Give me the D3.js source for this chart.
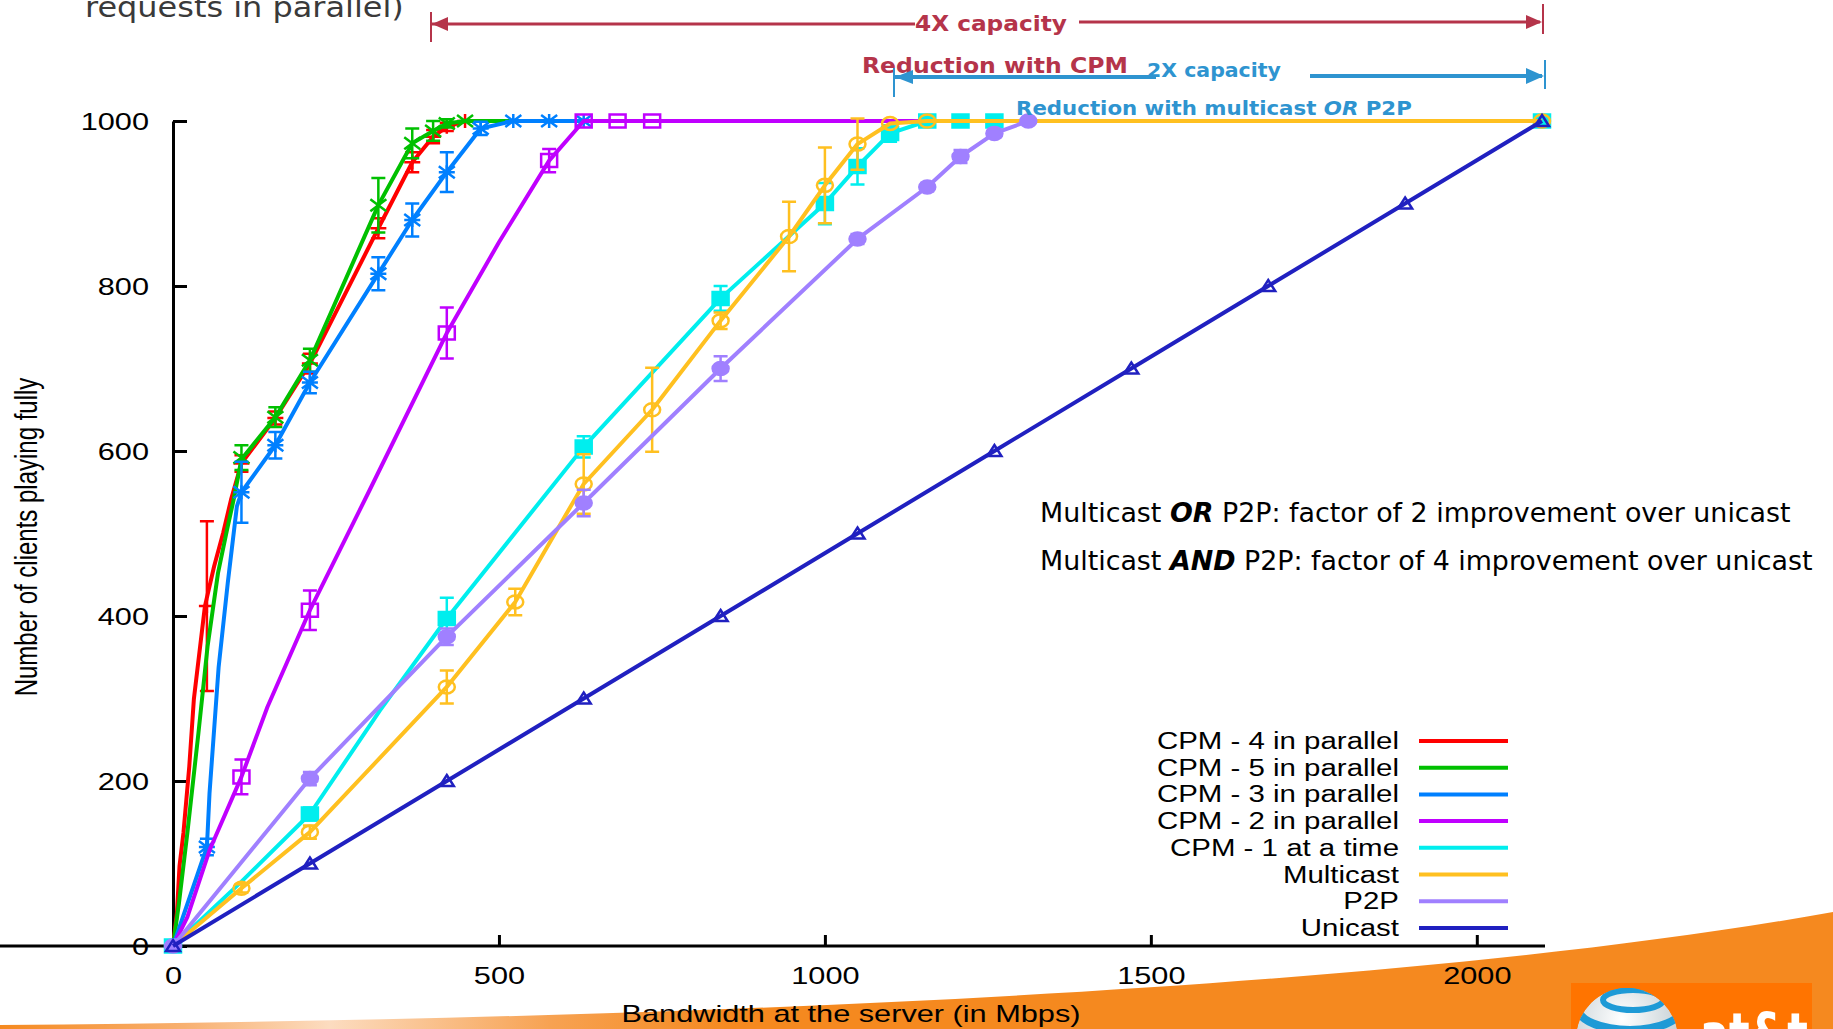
<!DOCTYPE html>
<html>
<head>
<meta charset="utf-8">
<script src="https://cdn.jsdelivr.net/npm/d3@7"></script>
<style>
  html, body { margin: 0; padding: 0; background: #fff; }
  svg { display: block; }
</style>
</head>
<body>
<div id="chart"></div>
<script>
const W = 1833, H = 1029;

// ticks
const xTicks = [0, 500, 1000, 1500, 2000];
const yTicks = [0, 200, 400, 600, 800, 1000];

// [bandwidth (Mbps), clients playing fully] - line points
const cpm4Line = [[0,0],[6,40],[10,97],[16,137],[25,218],[32,299],[49,412],[63,460],[77,501],[89,541],[105,585],[157,640],[210,706],[315,870],[367,950],[399,981],[420,993],[448,1000],[500,1000]];
const cpm5Line = [[0,0],[9,51],[22,137],[39,258],[53,363],[69,452],[83,505],[93,541],[105,590],[157,641],[210,710],[315,898],[367,973],[399,988],[420,997],[448,1000],[520,1000]];
const cpm3Line = [[0,0],[52,120],[56,185],[70,338],[84,440],[98,533],[105,550],[157,607],[210,683],[315,815],[367,880],[420,938],[472,991],[522,1000],[650,1000]];
const cpm2Line = [[0,0],[22,35],[56,116],[105,205],[145,290],[210,407],[300,550],[420,743],[500,853],[577,952],[630,1000],[1160,1000]];
const cpm1Line = [[0,0],[105,78],[210,160],[317,285],[420,397],[630,605],[840,785],[1000,900],[1050,945],[1100,985],[1157,1000],[2100,1000]];
const multiLine = [[0,0],[105,70],[210,138],[420,314],[525,417],[630,560],[735,650],[840,758],[945,860],[1000,922],[1050,972],[1100,997],[1157,1000],[2100,1000]];
const p2pLine = [[0,0],[210,203],[420,375],[630,537],[840,700],[1050,857],[1157,920],[1208,957],[1260,985],[1312,1000]];
const uniLine = [[0,0],[210,100],[420,200],[630,300],[840,400],[1050,500],[1260,600],[1470,700],[1680,800],[1890,900],[2100,1000]];

// [bandwidth, clients, error half-height] - plotted points with error bars
const cpm4Marks = [[52,412,103],[105,585,10],[157,640,8],[210,706,12],[315,870,12],[367,950,12],[399,981,8],[420,993,5],[448,1000,0]];
const cpm5Marks = [[105,592,15],[157,641,12],[210,710,14],[315,898,33],[367,973,18],[399,988,12],[420,997,5],[448,1000,0]];
const cpm3Marks = [[52,120,10],[105,550,37],[157,607,16],[210,683,13],[315,815,20],[367,880,20],[420,938,24],[472,991,8],[522,1000,0],[577,1000,0],[630,1000,0]];
const cpm2Marks = [[105,205,21],[210,407,24],[420,743,31],[577,952,14],[630,1000,0],[682,1000,0],[735,1000,0]];
const cpm1Marks = [[0,0,0],[210,160,8],[420,397,25],[630,605,13],[840,785,15],[1000,900,25],[1050,945,22],[1100,985,10],[1157,1000,0],[1208,1000,0],[1260,1000,0],[2100,1000,0]];
const multiMarks = [[105,70,5],[210,138,8],[420,314,20],[525,417,16],[630,560,36],[735,650,51],[840,758,10],[945,860,42],[1000,922,46],[1050,972,31],[1100,997,0],[1157,1000,0],[2100,1000,0]];
const p2pMarks = [[0,0,0],[210,203,8],[420,375,10],[630,537,16],[840,700,15],[1050,857,6],[1157,920,5],[1208,957,8],[1260,985,5],[1312,1000,0]];
const uniMarks = [[0,0,0],[210,100,0],[420,200,0],[630,300,0],[840,400,0],[1050,500,0],[1260,600,0],[1470,700,0],[1680,800,0],[1890,900,0],[2100,1000,0]];

const names = ["CPM - 4 in parallel", "CPM - 5 in parallel", "CPM - 3 in parallel", "CPM - 2 in parallel", "CPM - 1 at a time", "Multicast", "P2P", "Unicast"];
const colors = ["#ff0000", "#00c000", "#0080ff", "#c000ff", "#00eeee", "#ffc020", "#a080ff", "#2020c0"];
const shapes = ["plus", "cross", "star", "square", "fsquare", "circle", "fcircle", "triangle"];

const series = names.map((n, i) => ({
  name: n, color: colors[i], shape: shapes[i],
  line: [cpm4Line, cpm5Line, cpm3Line, cpm2Line, cpm1Line, multiLine, p2pLine, uniLine][i],
  marks: [cpm4Marks, cpm5Marks, cpm3Marks, cpm2Marks, cpm1Marks, multiMarks, p2pMarks, uniMarks][i]
}));

const STRETCH = 1.28; // the plot image is wider than its fonts
const plotFont = "Liberation Sans, Arial, sans-serif";
const slideFont = "DejaVu Sans, Verdana, sans-serif";

const svg = d3.select("#chart").append("svg")
  .attr("width", W).attr("height", H)
  .attr("viewBox", [0, 0, W, H]);

// ---- slide background: orange swoosh + logo
const defs = svg.append("defs");
const grad = defs.append("linearGradient").attr("id", "swoosh").attr("x1", 0).attr("x2", 1);
[[0, "#f5891f"], [0.1, "#f8b070"], [0.18, "#fcdcc0"], [0.3, "#f7a252"], [0.4, "#f5891f"], [1, "#f5891f"]]
  .forEach(s => grad.append("stop").attr("offset", s[0]).attr("stop-color", s[1]));
svg.append("path")
  .attr("d", "M0,1025 C700,1019 1400,990 1833,912 L1833,1029 L0,1029 Z")
  .attr("fill", "url(#swoosh)");

svg.append("rect").attr("x", 1571).attr("y", 983).attr("width", 241).attr("height", 46).attr("fill", "#ff7400");
const globeGrad = defs.append("radialGradient").attr("id", "globe").attr("cx", 0.45).attr("cy", 0.3).attr("r", 0.7);
globeGrad.append("stop").attr("offset", 0).attr("stop-color", "#ffffff");
globeGrad.append("stop").attr("offset", 1).attr("stop-color", "#b9c6cc");
defs.append("clipPath").attr("id", "globeClip").append("circle").attr("cx", 1627).attr("cy", 1039).attr("r", 51);
const globe = svg.append("g").attr("clip-path", "url(#globeClip)");
globe.append("circle").attr("cx", 1627).attr("cy", 1039).attr("r", 51).attr("fill", "url(#globe)");
globe.append("ellipse").attr("cx", 1633).attr("cy", 1000).attr("rx", 30).attr("ry", 10)
  .attr("fill", "none").attr("stroke", "#1e9ad6").attr("stroke-width", 6);
globe.append("ellipse").attr("cx", 1630).attr("cy", 1008).attr("rx", 52).attr("ry", 22)
  .attr("fill", "none").attr("stroke", "#1e9ad6").attr("stroke-width", 8);
globe.append("ellipse").attr("cx", 1628).attr("cy", 1018).attr("rx", 66).attr("ry", 34)
  .attr("fill", "none").attr("stroke", "#1e9ad6").attr("stroke-width", 9);

// text in the slide font, squeezed or stretched to the width seen
function slideText(x, y, parts, size, fill, width, weight) {
  const t = svg.append("text")
    .attr("font-family", slideFont)
    .attr("font-size", size)
    .attr("font-weight", weight || "normal")
    .attr("fill", fill);
  parts.forEach(p => t.append("tspan").text(p[0])
    .attr("font-weight", p[1] || null).attr("font-style", p[2] || null));
  const w = t.node().getComputedTextLength();
  t.attr("transform", `translate(${x},${y}) scale(${width / w},1)`);
  return t;
}

slideText(1700, 1055, [["at&t"]], 58, "#fff", 108, "bold");

// ---- scales
const x = d3.scaleLinear().domain([0, 2100]).range([173, 1542]);
const y = d3.scaleLinear().domain([0, 1000]).range([946, 121]);

// ---- axes
const xAxis = svg.append("g")
  .attr("transform", `translate(0,${y(0)})`)
  .call(d3.axisBottom(x).tickValues(xTicks).tickFormat(d3.format("d")).tickSizeInner(-11).tickSizeOuter(0));
const yAxis = svg.append("g")
  .attr("transform", `translate(${x(0)},0)`)
  .call(d3.axisLeft(y).tickValues(yTicks).tickFormat(d3.format("d")).tickSizeInner(-14).tickSizeOuter(0));

[xAxis, yAxis].forEach(a => {
  a.attr("font-family", plotFont).attr("font-size", 24);
  a.selectAll("path, line").attr("stroke", "#000").attr("stroke-width", 3);
  a.selectAll("text").attr("fill", "#000");
});
xAxis.select(".domain").attr("d", `M0,0H${x(2100) + 3}`);
xAxis.selectAll("text").attr("y", 30).attr("dy", "0.35em")
  .attr("transform", `scale(${STRETCH},1)`);
yAxis.selectAll("text").attr("x", -24 / STRETCH).attr("dy", "0.35em")
  .attr("transform", `scale(${STRETCH},1)`);

svg.append("text")
  .attr("font-family", plotFont).attr("font-size", 24)
  .attr("text-anchor", "middle").attr("dominant-baseline", "central")
  .attr("transform", `translate(26,537) rotate(-90) scale(1,${STRETCH})`)
  .text("Number of clients playing fully");

svg.append("text")
  .attr("font-family", plotFont).attr("font-size", 24)
  .attr("text-anchor", "middle")
  .attr("transform", `translate(851,1022) scale(${STRETCH},1)`)
  .text("Bandwidth at the server (in Mbps)");

// ---- series
const line = d3.line().x(d => x(d[0])).y(d => y(d[1]));

function markPath(shape) {
  switch (shape) {
    case "plus": return "M-8,0H8M0,-7V7";
    case "cross": return "M-8,-6L8,6M-8,6L8,-6";
    case "star": return "M-8,0H8M0,-7V7M-8,-6L8,6M-8,6L8,-6";
    case "square":
    case "fsquare": return "M-8,-6.5H8V6.5H-8Z";
    case "circle":
    case "fcircle": return "M-8,0A8,6.5 0 1,0 8,0A8,6.5 0 1,0 -8,0Z";
    case "triangle": return "M0,-6L7,5H-7Z";
  }
}

series.forEach(s => {
  const g = svg.append("g");
  g.append("path")
    .attr("d", line(s.line))
    .attr("fill", "none")
    .attr("stroke", s.color)
    .attr("stroke-width", 4)
    .attr("stroke-linejoin", "round");

  const eb = s.marks.filter(d => d[2] > 0);
  g.selectAll(".err")
    .data(eb)
    .join("path")
    .attr("d", d => {
      const cx = x(d[0]), y1 = y(d[1] + d[2]), y2 = y(d[1] - d[2]);
      return `M${cx},${y1}V${y2}M${cx - 7},${y1}H${cx + 7}M${cx - 7},${y2}H${cx + 7}`;
    })
    .attr("fill", "none")
    .attr("stroke", s.color)
    .attr("stroke-width", 2.5);

  const filled = s.shape === "fsquare" || s.shape === "fcircle";
  g.selectAll(".mk")
    .data(s.marks)
    .join("path")
    .attr("transform", d => `translate(${x(d[0])},${y(d[1])})`)
    .attr("d", markPath(s.shape))
    .attr("fill", filled ? s.color : "none")
    .attr("stroke", s.color)
    .attr("stroke-width", 2.5);
});

// ---- legend
const legend = svg.append("g").attr("font-family", plotFont).attr("font-size", 23);
series.forEach((s, i) => {
  const ly = 741 + i * 26.7;
  legend.append("text")
    .attr("text-anchor", "end")
    .attr("dy", "0.35em")
    .attr("transform", `translate(1399,${ly}) scale(${STRETCH},1)`)
    .text(s.name);
  legend.append("line")
    .attr("x1", 1419).attr("x2", 1508)
    .attr("y1", ly).attr("y2", ly)
    .attr("stroke", s.color).attr("stroke-width", 4);
});

// ---- slide annotations
const red = "#b5344a", blue = "#2e94d0";

slideText(85, 17, [["requests in parallel)"]], 28, "#3a3a3a", 319);

function arrowHead(xTip, yTip, dir, color, len, half) {
  svg.append("path")
    .attr("d", `M${xTip},${yTip}L${xTip - dir * len},${yTip - half}L${xTip - dir * len},${yTip + half}Z`)
    .attr("fill", color);
}
function seg(x1, y1, x2, y2, color, w) {
  svg.append("line").attr("x1", x1).attr("y1", y1).attr("x2", x2).attr("y2", y2)
    .attr("stroke", color).attr("stroke-width", w);
}

// 4X capacity arrow
seg(431, 24, 915, 24, red, 3);
seg(1079, 22, 1540, 22, red, 3);
seg(431, 12, 431, 42, red, 2);
seg(1543, 4, 1543, 34, red, 2);
arrowHead(432, 24, -1, red, 16, 7);
arrowHead(1542, 22, 1, red, 16, 7);
slideText(915, 31, [["4X capacity"]], 21, red, 152, "bold");
slideText(862, 72.5, [["Reduction with CPM"]], 22, red, 266, "bold");

// 2X capacity arrow
seg(894, 77, 1156, 77, blue, 4);
seg(1310, 76, 1542, 76, blue, 4);
seg(894, 68, 894, 97, blue, 2);
seg(1545, 60, 1545, 89, blue, 2);
arrowHead(895, 77, -1, blue, 18, 7);
arrowHead(1544, 76, 1, blue, 18, 8);
slideText(1147, 77, [["2X capacity"]], 20, blue, 134, "bold");
slideText(1016, 115, [["Reduction with multicast "], ["OR", null, "italic"], [" P2P"]], 20, blue, 396, "bold");

// right-hand notes
slideText(1040, 522, [["Multicast "], ["OR", "bold", "italic"], [" P2P: factor of 2 improvement over unicast"]], 26, "#000", 751);
slideText(1040, 570, [["Multicast "], ["AND", "bold", "italic"], [" P2P: factor of 4 improvement over unicast"]], 26, "#000", 773);
</script>
</body>
</html>
